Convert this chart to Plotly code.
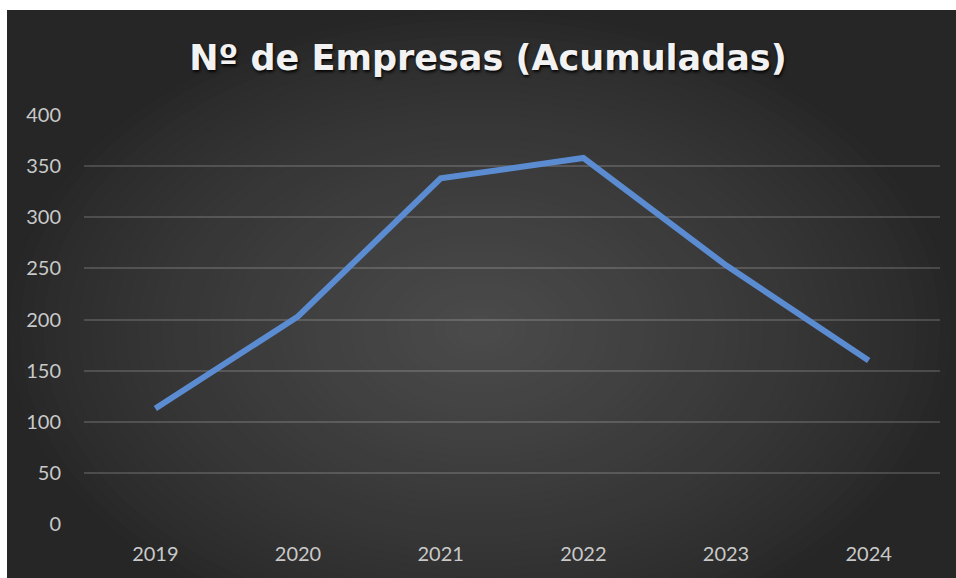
import plotly.graph_objects as go

years = ["2019", "2020", "2021", "2022", "2023", "2024"]
empresas = [113, 203, 338, 358, 253, 160]
y_ticks = [0, 50, 100, 150, 200, 250, 300, 350, 400]
title_text = "Nº de Empresas (Acumuladas)"

W, H = 956, 578
L, T = 84, 115
R = W - 940
B = H - 524
pw, ph = W - L - R, H - T - B

def px_x(px):
    return (px - L) / pw

def px_y(py):
    return (H - B - py) / ph

fig = go.Figure()
fig.add_trace(go.Scatter(
    x=years, y=empresas, mode="lines",
    line=dict(color="#5B8CD2", width=6),
    hoverinfo="x+y", showlegend=False,
))

shapes = []
cx, cy = 480, 330
rx_max, ry_max = 472, 318
n = 40
outer, inner = 0x27, 0x4b
for i in range(n):
    f = 1 - i / n
    t = (1 - f) ** 0.8
    g = int(round(outer + (inner - outer) * t))
    rx, ry = rx_max * f, ry_max * f
    shapes.append(dict(type="circle", xref="paper", yref="paper",
                       x0=px_x(cx - rx), x1=px_x(cx + rx),
                       y0=px_y(cy + ry), y1=px_y(cy - ry),
                       fillcolor=f"rgb({g},{g},{g})", line=dict(width=0),
                       layer="below"))
# white border strips (left and top)
shapes.append(dict(type="rect", xref="paper", yref="paper",
                   x0=px_x(-20), x1=px_x(7), y0=px_y(600), y1=px_y(-20),
                   fillcolor="white", line=dict(width=0), layer="below"))
shapes.append(dict(type="rect", xref="paper", yref="paper",
                   x0=px_x(-20), x1=px_x(1000), y0=px_y(10), y1=px_y(-20),
                   fillcolor="white", line=dict(width=0), layer="below"))

fig.update_layout(
    width=W, height=H,
    margin=dict(l=L, r=R, t=T, b=B, pad=0),
    paper_bgcolor="#262626",
    plot_bgcolor="rgba(0,0,0,0)",
    shapes=shapes,
    title=dict(text=title_text, x=488 / W, xanchor="center",
               y=1 - 58 / H, yanchor="middle",
               font=dict(family="DejaVu Sans", size=35, color="#f2f2f2",
                         weight="bold", shadow="1px 2px 3px rgba(0,0,0,0.9)")),
    font=dict(family="Lato", size=20, color="#c9c9c9"),
)
fig.update_xaxes(showgrid=False, zeroline=False, showline=False,
                 range=[-0.5, 5.5], ticks="", ticklabelstandoff=16,
                 tickfont=dict(family="Lato", size=20, color="#c9c9c9"))
fig.update_yaxes(range=[0, 400], tickvals=y_ticks, showgrid=True,
                 gridcolor="rgba(255,255,255,0.16)", gridwidth=1.5,
                 zeroline=False, showline=False, ticks="",
                 ticklabelstandoff=22,
                 tickfont=dict(family="Lato", size=20, color="#c9c9c9"))

fig.write_html("out.html", config={"displayModeBar": False},
               post_script="document.body.style.margin='0px';document.body.style.overflow='hidden';document.body.style.background='#262626';")
